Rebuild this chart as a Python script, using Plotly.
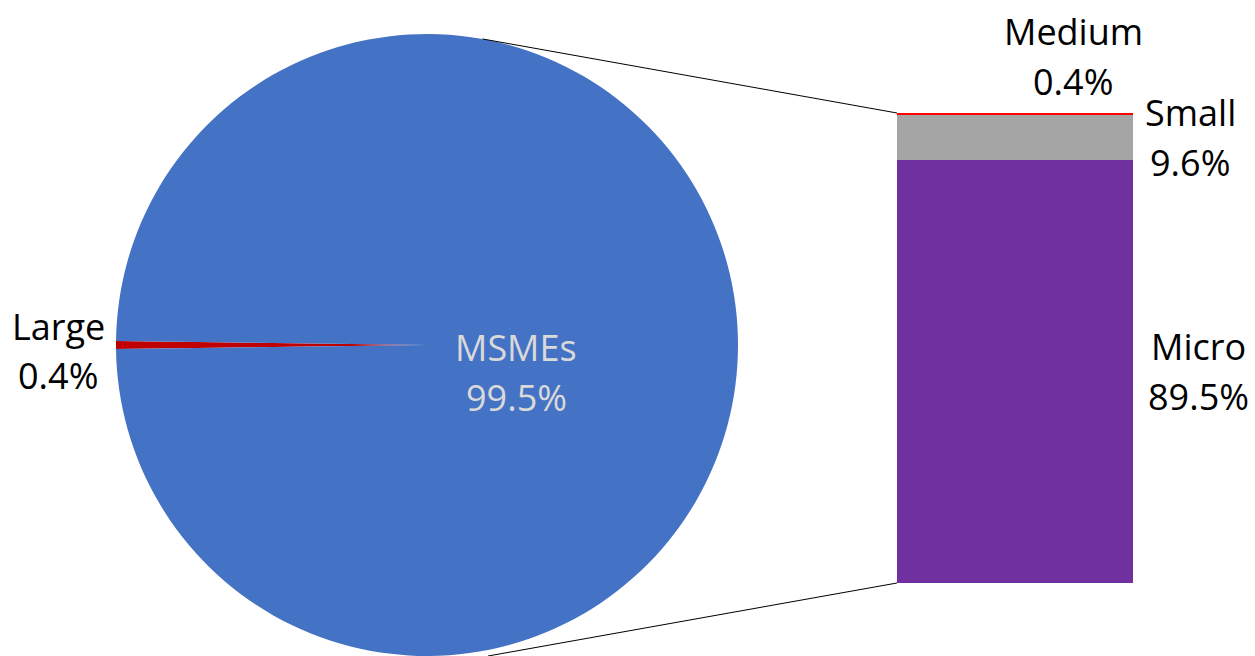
import math
import plotly.graph_objects as go

W, H = 1255, 656

# ---- data ----
pie_labels = ["Large", "MSMEs"]
pie_values = [0.4, 99.5]
bar_labels = ["Micro", "Small", "Medium"]
bar_values = [89.5, 9.6, 0.4]
pie_colors = ["#C00000", "#4472C4"]
bar_colors = ["#7030A0", "#A5A5A5", "#FF0000"]

FONT = "Open Sans"
FS = 36

def px(x):
    return x / W

def py(y):
    return 1 - y / H

# pie geometry (pixels)
cx, cy, r = 427, 345, 311
total = sum(pie_values)
large_span = pie_values[0] / total * 360
rotation = 270 - large_span / 2

fig = go.Figure()
fig.add_trace(go.Pie(
    labels=pie_labels, values=pie_values, sort=False, direction="clockwise",
    rotation=rotation, marker=dict(colors=pie_colors, line=dict(width=0)),
    textinfo="none", hoverinfo="label+percent", showlegend=False,
    domain=dict(x=[px(cx - r), px(cx + r)], y=[py(cy + r), py(cy - r)]),
))

# stacked bar
bar_top = sum(bar_values)
for lab, v, c in zip(bar_labels, bar_values, bar_colors):
    fig.add_trace(go.Bar(x=["Bar"], y=[v], name=lab, marker=dict(color=c, line=dict(width=0)),
                         showlegend=False, width=1))

bx0, bx1, by_top, by_bot = 897, 1133, 113, 583
fig.update_layout(
    barmode="stack", bargap=0,
    width=W, height=H, margin=dict(l=0, r=0, t=0, b=0),
    paper_bgcolor="white", plot_bgcolor="white",
    xaxis=dict(domain=[px(bx0), px(bx1)], visible=False, range=[-0.5, 0.5]),
    yaxis=dict(domain=[py(by_bot), py(by_top)], visible=False, range=[0, bar_top]),
    font=dict(family=FONT, size=FS, color="black"),
)

# connector lines: pie rim points to bar corners
lcx, lcy, lr = 427, 348, 314
a_top = math.radians(10.2)
a_bot = math.radians(168.8)
p_top = (lcx + lr * math.sin(a_top), lcy - lr * math.cos(a_top))
p_bot = (lcx + lr * math.sin(a_bot), lcy - lr * math.cos(a_bot))
for (x0, y0), yv in [(p_top, bar_top), (p_bot, 0)]:
    fig.add_shape(type="line", xref="paper", yref="paper", x0=px(x0), y0=py(y0),
                  x1=px(bx0), y1=(py(by_bot) + (py(by_top) - py(by_bot)) * yv / bar_top),
                  line=dict(color="black", width=1))

def two_line(name, pct, x, yc, color="black", gap=50):
    fig.add_annotation(text=name, x=px(x), y=py(yc - gap / 2), xref="paper", yref="paper",
                       showarrow=False, xanchor="center", yanchor="middle",
                       font=dict(family=FONT, size=FS, color=color))
    fig.add_annotation(text=f"{pct:.1f}%", x=px(x), y=py(yc + gap / 2), xref="paper", yref="paper",
                       showarrow=False, xanchor="center", yanchor="middle",
                       font=dict(family=FONT, size=FS, color=color))

two_line(pie_labels[0], pie_values[0], 58, 351)
two_line(pie_labels[1], pie_values[1], 516, 372, color="#D9D9D9")

# bar labels centred on their segments
seg_px = (by_bot - by_top) / bar_top
cum = 0
label_pos = {"Micro": (1198, 0), "Small": (1190, 0), "Medium": (1073, -57)}
for lab, v in zip(bar_labels, bar_values):
    mid = cum + v / 2
    cum += v
    xpix, dy = label_pos[lab]
    ymid = by_bot - mid * seg_px + dy
    two_line(lab, v, xpix, ymid)

fig.write_html("out.html", config={"displayModeBar": False},
               post_script="document.body.style.margin='0px';document.body.style.overflow='hidden';")
